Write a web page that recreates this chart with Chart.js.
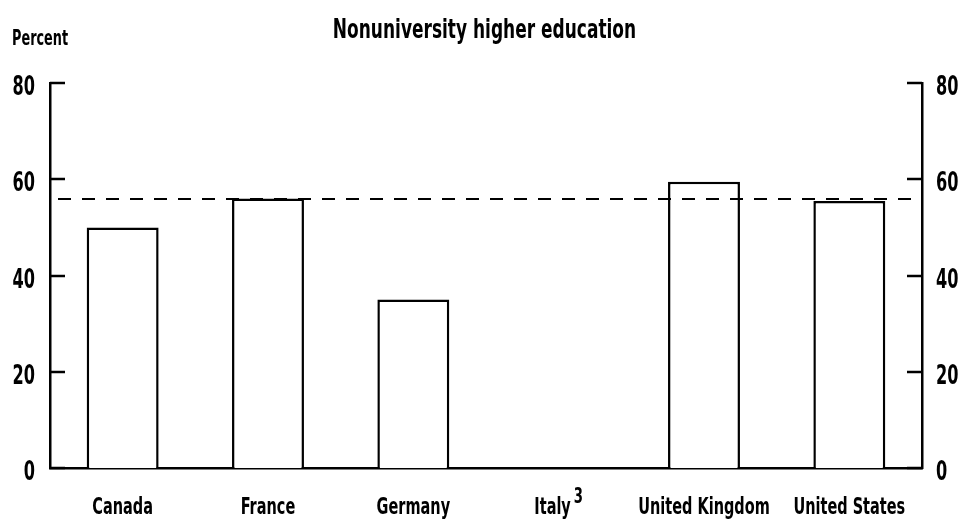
<!DOCTYPE html>
<html>
<head>
<meta charset="utf-8">
<script src="https://cdn.jsdelivr.net/npm/chart.js@4.4.1/dist/chart.umd.min.js"></script>
<style>
  html, body { margin: 0; padding: 0; background: #fff; }
  #wrap { width: 969px; height: 525px; position: relative; }
</style>
</head>
<body>
<div id="wrap"><canvas id="c"></canvas></div>
<script>
const categories = ["Canada", "France", "Germany", "Italy", "United Kingdom", "United States"];
const footnotes = ["", "", "", "3", "", ""];
const values = [50, 56, 35, null, 59.5, 55.5];
const averageValue = 55.8;
const yTicks = [0, 20, 40, 60, 80];
const titleText = "Nonuniversity higher education";
const unitText = "Percent";

const FONT = "'DejaVu Sans Condensed', 'DejaVu Sans', sans-serif";

function condText(ctx, text, x, y, size, align, sx) {
  ctx.save();
  ctx.font = "bold " + size + "px " + FONT;
  ctx.textBaseline = 'alphabetic';
  const w = ctx.measureText(text).width * sx;
  let left = x;
  if (align === 'center') left = x - w / 2;
  else if (align === 'right') left = x - w;
  ctx.translate(left, y);
  ctx.scale(sx, 1);
  ctx.textAlign = 'left';
  ctx.fillStyle = '#000';
  ctx.fillText(text, 0, 0);
  ctx.restore();
  return w;
}

const extras = {
  id: 'extras',
  afterDraw(chart) {
    const ctx = chart.ctx;
    const area = chart.chartArea;
    const yl = chart.scales.y;
    const yr = chart.scales.y1;
    const xs = chart.scales.x;
    ctx.save();
    ctx.strokeStyle = '#000';
    ctx.lineWidth = 2.5;
    // inward ticks and tick labels
    yTicks.forEach(v => {
      const py = Math.round(yl.getPixelForValue(v));
      ctx.beginPath(); ctx.moveTo(area.left, py); ctx.lineTo(area.left + 15, py); ctx.stroke();
      condText(ctx, String(v), area.left - 15, py + 12, 26, 'right', 0.69);
      const pr = Math.round(yr.getPixelForValue(v));
      ctx.beginPath(); ctx.moveTo(area.right, pr); ctx.lineTo(area.right - 15, pr); ctx.stroke();
      condText(ctx, String(v), area.right + 14, pr + 12, 26, 'left', 0.69);
    });
    // dashed average line
    const ay = Math.round(yl.getPixelForValue(averageValue));
    ctx.setLineDash([13, 11]);
    ctx.lineWidth = 2;
    ctx.beginPath(); ctx.moveTo(area.left + 8, ay); ctx.lineTo(area.right - 6, ay); ctx.stroke();
    ctx.setLineDash([]);
    // category labels
    categories.forEach((c, i) => {
      const px = xs.getPixelForValue(i);
      ctx.font = "bold 23px " + FONT;
      const wMain = ctx.measureText(c).width * 0.70;
      let wSup = 0;
      if (footnotes[i]) { ctx.font = "bold 21px " + FONT; wSup = ctx.measureText(footnotes[i]).width * 0.70 + 3; }
      const left = px - (wMain + wSup) / 2;
      condText(ctx, c, left, 514, 23, 'left', 0.70);
      if (footnotes[i]) condText(ctx, footnotes[i], left + wMain + 3, 503, 21, 'left', 0.70);
    });
    // title and unit label
    condText(ctx, titleText, chart.width / 2, 38, 26, 'center', 0.727);
    condText(ctx, unitText, 12, 45, 21, 'left', 0.68);
    ctx.restore();
  }
};

new Chart(document.getElementById('c'), {
  type: 'bar',
  data: {
    labels: categories,
    datasets: [{
      data: values,
      backgroundColor: '#fff',
      borderColor: '#000',
      borderWidth: 2.5,
      categoryPercentage: 1,
      barPercentage: 0.495
    }]
  },
  options: {
    responsive: true,
    maintainAspectRatio: false,
    animation: false,
    devicePixelRatio: 1,
    layout: { padding: { top: 83, left: 0, right: 0, bottom: 0 } },
    plugins: {
      legend: { display: false },
      tooltip: { enabled: false },
      title: { display: false }
    },
    scales: {
      x: {
        grid: { display: false, drawTicks: false },
        border: { display: true, color: '#000', width: 2.5 },
        ticks: { display: false },
        afterFit(s) { s.height = 57; }
      },
      y: {
        position: 'left',
        min: 0, max: 80,
        afterBuildTicks(s) { s.ticks = yTicks.map(v => ({ value: v })); },
        grid: { display: false, drawTicks: false },
        border: { display: true, color: '#000', width: 2.5 },
        ticks: { display: false },
        afterFit(s) { s.width = 50; }
      },
      y1: {
        position: 'right',
        min: 0, max: 80,
        afterBuildTicks(s) { s.ticks = yTicks.map(v => ({ value: v })); },
        grid: { display: false, drawTicks: false },
        border: { display: true, color: '#000', width: 2.5 },
        ticks: { display: false },
        afterFit(s) { s.width = 47; }
      }
    }
  },
  plugins: [extras]
});
</script>
</body>
</html>
